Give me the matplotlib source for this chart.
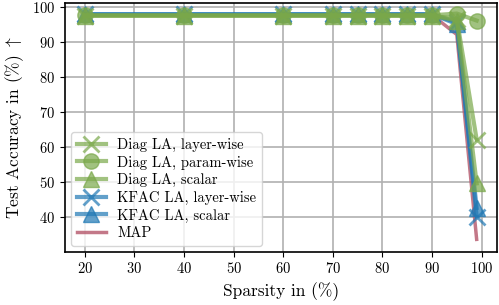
import numpy as np
import matplotlib.pyplot as plt

plt.rcParams['font.family'] = 'cmr10'
plt.rcParams['mathtext.fontset'] = 'cm'
plt.rcParams['axes.formatter.use_mathtext'] = True
plt.rcParams['font.size'] = 11

sparsity = [20, 40, 60, 70, 75, 80, 85, 90, 95, 99]

diag_layer = [97.4, 97.4, 97.4, 97.4, 97.4, 97.4, 97.4, 97.4, 96.5, 62.0]
diag_param = [97.5, 97.5, 97.5, 97.5, 97.5, 97.5, 97.5, 97.5, 98.0, 96.0]
diag_scalar = [97.4, 97.4, 97.4, 97.4, 97.4, 97.4, 97.4, 97.4, 96.0, 49.5]
kfac_layer = [97.8, 97.8, 97.8, 97.8, 97.8, 97.8, 97.8, 97.8, 95.5, 40.0]
kfac_scalar = [97.8, 97.8, 97.8, 97.8, 97.8, 97.8, 97.8, 97.8, 95.0, 42.5]
map_acc = [97.6, 97.6, 97.6, 97.6, 97.6, 97.6, 97.6, 97.6, 92.0, 33.5]

green = '#7aa84a'
blue = '#1f78b4'
red = '#b5566a'

fig, ax = plt.subplots(figsize=(4.99, 3.05), dpi=100)

# green (Diag) series sit on top of the blue ones, like in the original
ax.plot(sparsity, diag_layer, color=green, marker='x', ms=11, mew=2, lw=3, alpha=0.7, zorder=5, label='Diag LA, layer-wise')
ax.plot(sparsity, diag_param, color=green, marker='o', ms=11, lw=3, alpha=0.7, zorder=5, label='Diag LA, param-wise')
ax.plot(sparsity, diag_scalar, color=green, marker='^', ms=11, lw=3, alpha=0.7, zorder=5, label='Diag LA, scalar')
ax.plot(sparsity, kfac_layer, color=blue, marker='x', ms=11, mew=2, lw=3, alpha=0.7, zorder=4, label='KFAC LA, layer-wise')
ax.plot(sparsity, kfac_scalar, color=blue, marker='^', ms=11, lw=3, alpha=0.7, zorder=4, label='KFAC LA, scalar')
ax.plot(sparsity, map_acc, color=red, lw=2.5, alpha=0.8, zorder=3, label='MAP')

ax.set_xlim(16, 103)
ax.set_ylim(30, 101)
ax.set_xticks([20, 30, 40, 50, 60, 70, 80, 90, 100])
ax.set_yticks([40, 50, 60, 70, 80, 90, 100])
ax.tick_params(labelsize=10.5)
ax.grid(True, color='#b0b0b0', lw=1.2)
ax.set_axisbelow(True)
ax.set_xlabel('Sparsity in (%)', fontsize=12.5)
ax.set_ylabel(r'Test Accuracy in (%) $\uparrow$', fontsize=12.5)
for s in ax.spines.values():
    s.set_linewidth(1.2)

leg = ax.legend(loc='lower left', fontsize=10.5, framealpha=0.8, handlelength=2.0,
                labelspacing=0.25, borderaxespad=0.4)
leg.set_zorder(10)

fig.subplots_adjust(left=0.13, right=0.995, top=0.99, bottom=0.175)
fig.savefig('out.png', dpi=100)
